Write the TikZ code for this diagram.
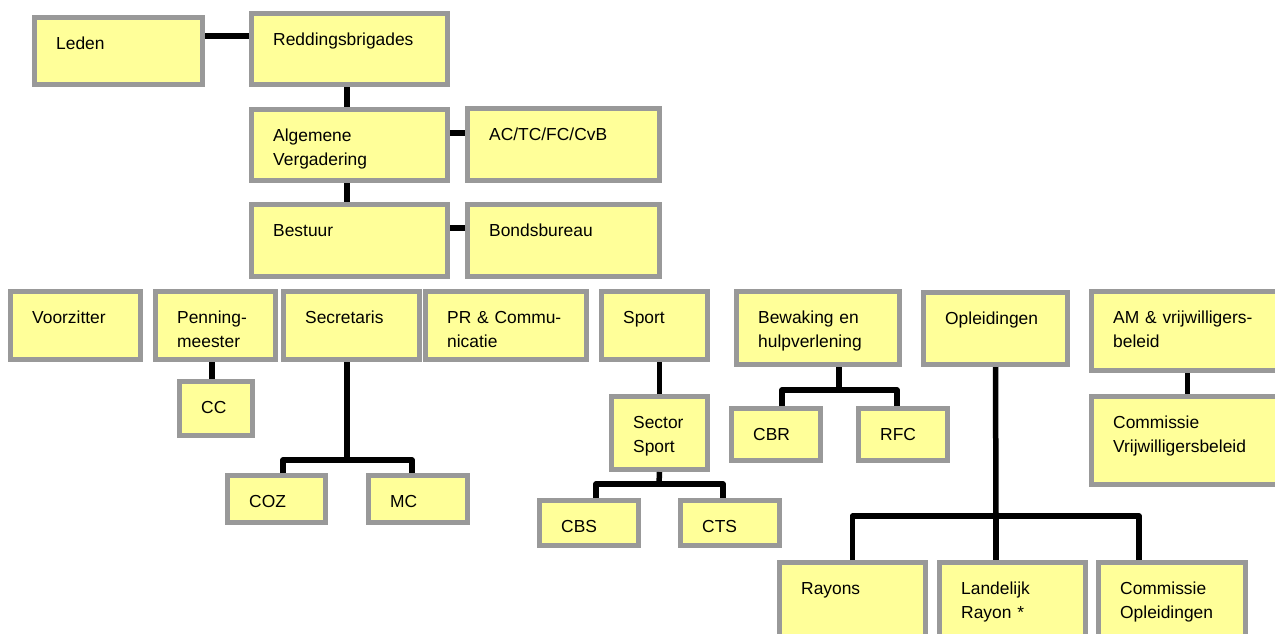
\documentclass[tikz,border=0pt]{standalone}
\usepackage{fontspec}
\setmainfont{Liberation Sans}
\definecolor{boxfill}{HTML}{FFFF99}
\definecolor{boxline}{HTML}{999999}
\tikzset{
  boxst/.style={draw=boxline, fill=boxfill, line width=5pt, inner sep=0pt, rectangle},
  txtst/.style={inner sep=0pt, text width=230pt, align=left, font=\fontsize{17.4}{24.5}\selectfont},
  conn/.style={draw=black, line width=5.5pt, line join=round}
}
\newcommand\bx[6]{%
  \node[boxst, minimum width={#4-#2-5}, minimum height={#5-#3-5}] (#1) at ({(#2+#4)/2},{(#3+#5)/2}) {};
  \node[txtst, anchor=base west] (#1-t) at ({#2+24},{#3+34}) {#6};
}
\begin{document}
\begin{tikzpicture}[x=1pt, y=-1pt]
\useasboundingbox (0,0) rectangle (1275,633);
\clip (0,0) rectangle (1275,633);
\fill[white] (0,0) rectangle (1275,633);
% top part
\bx{leden}{32}{15}{205}{87}{Leden}
\bx{redd}{249}{11}{450}{87}{Reddingsbrigades}
\bx{av}{249}{107}{450}{183}{Algemene\\Vergadering}
\bx{best}{249}{202}{450}{279}{Bestuur}
\bx{ac}{465}{106}{662}{183}{AC/TC/FC/CvB}
\bx{bonds}{465}{202}{662}{279}{Bondsbureau}
% row
\bx{voor}{8}{289}{143}{362}{Voorzitter}
\bx{penn}{153}{289}{278}{362}{Penning-\\meester}
\bx{sec}{281}{289}{422}{362}{Secretaris}
\bx{pr}{423}{289}{589}{362}{PR \& Commu-\\nicatie}
\bx{sport}{599}{289}{710}{362}{Sport}
\bx{bew}{734}{289}{902}{367}{Bewaking en\\hulpverlening}
\bx{opl}{921}{290}{1070}{367}{Opleidingen}
\bx{am}{1089}{289}{1286}{373}{AM \& vrijwilligers-\\beleid}
% lower
\bx{cc}{177}{379}{255}{438}{CC}
\bx{coz}{225}{473}{328}{525}{COZ}
\bx{mc}{366}{473}{470}{525}{MC}
\bx{sector}{609}{394}{710}{472}{Sector\\Sport}
\bx{cbs}{537}{498}{641}{548}{CBS}
\bx{cts}{678}{498}{782}{548}{CTS}
\bx{cbr}{729}{406}{823}{463}{CBR}
\bx{rfc}{856}{406}{950}{463}{RFC}
\bx{cv}{1089}{394}{1286}{487}{Commissie\\Vrijwilligersbeleid}
\bx{ray}{777}{560}{928}{640}{Rayons}
\bx{lan}{937}{560}{1088}{640}{Landelijk\\Rayon *}
\bx{co}{1096}{560}{1248}{640}{Commissie\\Opleidingen}
% junctions
\coordinate (secj) at (347,460);
\coordinate (sectj) at (659,484);
\coordinate (bewj) at (839,390);
\coordinate (oplj) at (996,516);
% connectors
\draw[conn] ([yshift=15pt]leden.east) -- ([yshift=15pt]leden.east -| redd.west);
\draw[conn] ([xshift=-2.5pt]redd.south) -- ([xshift=-2.5pt]av.north);
\draw[conn] ([xshift=-2.5pt]av.south) -- ([xshift=-2.5pt]best.north);
\draw[conn] ([yshift=12pt]av.east) -- ([yshift=12pt]av.east -| ac.west);
\draw[conn] ([yshift=12.5pt]best.east) -- ([yshift=12.5pt]best.east -| bonds.west);
\draw[conn] ([xshift=-3.5pt]penn.south) -- ([xshift=-3.5pt]penn.south |- cc.north);
\draw[conn] ([xshift=-4.5pt]sec.south) -- (secj);
\draw[conn] ([xshift=6.5pt]coz.north) |- (secj) -| ([xshift=-6pt]mc.north);
\draw[conn] (sector.north) -- (sector.north |- sport.south);
\draw[conn] (sector.south) -- (sectj);
\draw[conn] ([xshift=7pt]cbs.north) |- (sectj) -| ([xshift=-7pt]cts.north);
\draw[conn] (bewj |- bew.south) -- (bewj);
\draw[conn] ([xshift=6pt]cbr.north) |- (bewj) -| ([xshift=-6pt]rfc.north);
\draw[conn] (opl.south) -- (oplj);
\draw[conn] (ray.north) |- (oplj) -| ([xshift=-33pt]co.north);
\draw[conn] (oplj) -- ([xshift=-16.5pt]lan.north);
\draw[conn] (am.south) -- (cv.north);
\end{tikzpicture}
\end{document}
